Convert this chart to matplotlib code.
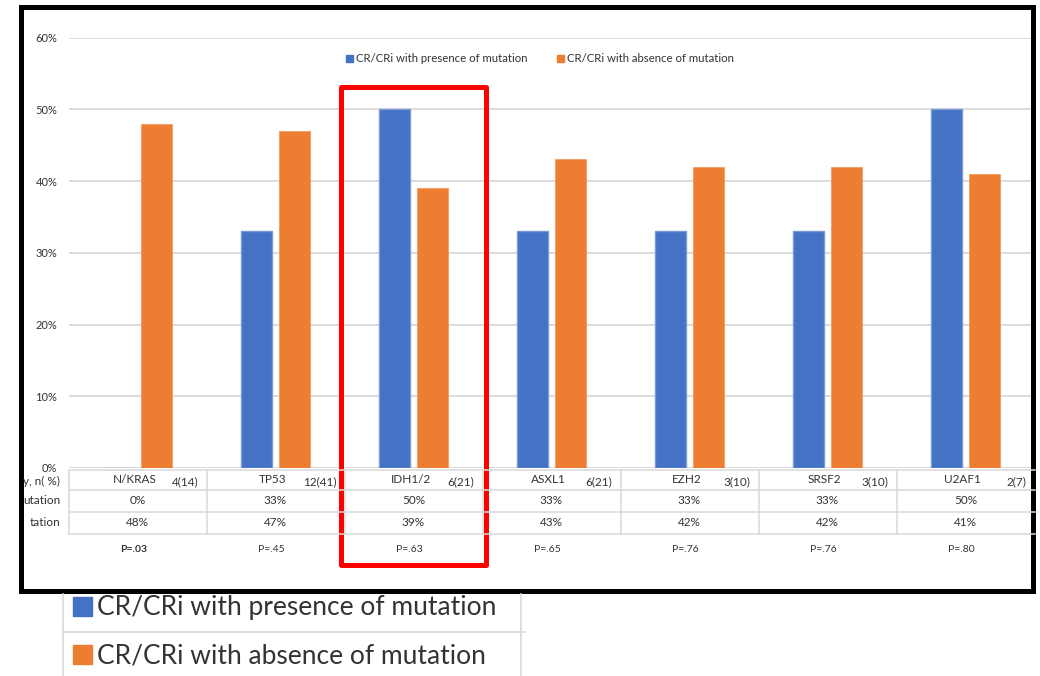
import numpy as np
import matplotlib.pyplot as plt
from matplotlib.patches import Patch, Rectangle
from matplotlib.lines import Line2D
from matplotlib.transforms import blended_transform_factory
from matplotlib.ticker import PercentFormatter

plt.rcParams['font.family'] = ['Lato', 'DejaVu Sans']

# CR/CRi rates by mutation
genes = ["N/KRAS", "TP53", "IDH1/2", "ASXL1", "EZH2", "SRSF2", "U2AF1"]
freq_n = ["4(14)", "12(41)", "6(21)", "6(21)", "3(10)", "3(10)", "2(7)"]
cr_present = [0, 33, 50, 33, 33, 33, 50]
cr_absent = [48, 47, 39, 43, 42, 42, 41]
p_values = ["P=.03", "P=.45", "P=.63", "P=.65", "P=.76", "P=.76", "P=.80"]
# only the tail of each row header shows inside the frame
row_labels = ["y, n( %)", "utation", "tation"]
series = ["CR/CRi with presence of mutation", "CR/CRi with absence of mutation"]

BLUE = "#4472C4"
ORANGE = "#ED7D31"
GRID = "#D9D9D9"
TXT = "#333333"

W, H = 1040, 676
fig = plt.figure(figsize=(W / 100, H / 100), dpi=100)


def fx(px):
    return px / W


def fy(py):
    return 1 - py / H


# plot area: x from 68.5 to 1034.5 px, y from 37.5 (60%) to 468 (0%)
ax = fig.add_axes([fx(68.5), fy(468), fx(1034.5) - fx(68.5), (468 - 37.5) / H])
x = np.arange(len(genes))
bw = 0.225
off = 0.141
ax.bar(x - off, cr_present, bw, color=BLUE, edgecolor="#7D9AD6", linewidth=1.0, zorder=3)
ax.bar(x + off, cr_absent, bw, color=ORANGE, edgecolor="#F29A62", linewidth=0.6, zorder=3)
ax.set_xlim(-0.5, len(genes) - 0.5)
ax.set_ylim(0, 60)
ax.set_yticks(range(0, 61, 10))
ax.yaxis.set_major_formatter(PercentFormatter(decimals=0))
ax.tick_params(axis='y', length=0, pad=8, labelsize=8, labelcolor=TXT)
ax.set_xticks([])
ax.grid(axis='y', color=GRID, linewidth=1.3, zorder=0)
for s in ax.spines.values():
    s.set_visible(False)

ax.legend(handles=[Patch(color=BLUE), Patch(color=ORANGE)], labels=series,
          loc='center', bbox_to_anchor=(fx(540), fy(59)), bbox_transform=fig.transFigure,
          ncol=2, frameon=False, fontsize=8.2, handlelength=0.6, handleheight=0.6,
          handletextpad=0.3, columnspacing=2.6, labelcolor=TXT)

# data table under the bars
tr = blended_transform_factory(ax.transData, fig.transFigure)
rows_y = [470, 490, 512, 534]
for ry in rows_y:
    fig.add_artist(Line2D([fx(68.5), fx(1034.5)], [fy(ry), fy(ry)], color=GRID, lw=1.1))
for b in np.arange(len(genes) + 1) - 0.5:
    ax.plot([b, b], [fy(470), fy(534)], transform=tr, color=GRID, lw=1.1, clip_on=False)

for i, g in enumerate(genes):
    ax.text(i - 0.02, fy(479.5), g, transform=tr, ha='center', va='center',
            fontsize=8.5, color=TXT)
    ax.text(i + 0.44, fy(482), freq_n[i], transform=tr, ha='right', va='center',
            fontsize=8.5, color=TXT)
    ax.text(i, fy(501), f"{cr_present[i]}%", transform=tr, ha='center', va='center',
            fontsize=8.5, color=TXT)
    ax.text(i, fy(523), f"{cr_absent[i]}%", transform=tr, ha='center', va='center',
            fontsize=8.5, color=TXT)
    ax.text(i - 0.03, fy(549), p_values[i], transform=tr, ha='center', va='center',
            fontsize=7.5, color=TXT, fontweight='bold' if i == 0 else 'normal')

for ry, lab in zip([481, 501, 522], row_labels):
    fig.text(fx(60), fy(ry), lab, ha='right', va='center', fontsize=8.5, color=TXT)

# outer black frame and red highlight around IDH1/2
fig.add_artist(Rectangle((fx(20.5), fy(591)), fx(1033) - fx(20.5), fy(6.5) - fy(591),
                         transform=fig.transFigure, fill=False, edgecolor='black',
                         linewidth=3.6, joinstyle='miter'))
fig.add_artist(Rectangle((fx(340.5), fy(565)), fx(485.5) - fx(340.5), fy(87) - fy(565),
                         transform=fig.transFigure, fill=False, edgecolor='#FF0000',
                         linewidth=3.6, joinstyle='round'))

# large legend below the frame, one cell per series
for patch_color, label, ry in zip([BLUE, ORANGE], series, [608, 656]):
    fig.legend(handles=[Patch(color=patch_color)], labels=[label],
               loc='center left', bbox_to_anchor=(fx(73), fy(ry)),
               bbox_transform=fig.transFigure, frameon=False, fontsize=19,
               handlelength=0.72, handleheight=0.72, handletextpad=0.2,
               borderpad=0, borderaxespad=0, labelcolor=TXT)
fig.add_artist(Line2D([fx(63), fx(63)], [fy(594), 0], color=GRID, lw=1.2))
fig.add_artist(Line2D([fx(521), fx(521)], [fy(594), 0], color=GRID, lw=1.2))
fig.add_artist(Line2D([fx(63), fx(525)], [fy(632), fy(632)], color=GRID, lw=1.2))

fig.savefig("out.png", dpi=100)
